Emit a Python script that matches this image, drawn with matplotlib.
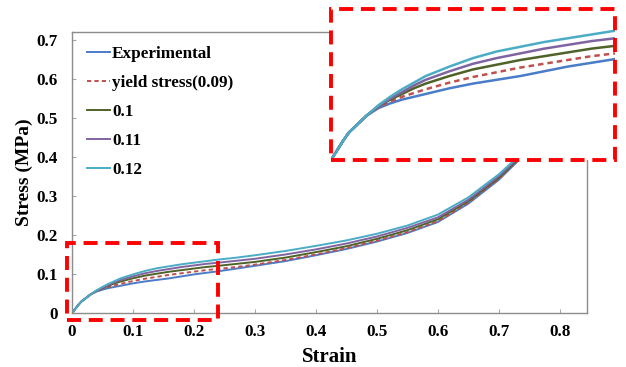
import matplotlib
matplotlib.use("Agg")
import matplotlib.pyplot as plt
from matplotlib.patches import Rectangle

plt.rcParams['font.family'] = ['Liberation Serif', 'DejaVu Serif']
plt.rcParams['font.weight'] = 'bold'

strain = [0, 0.005, 0.01, 0.015, 0.02, 0.025, 0.03, 0.04, 0.05, 0.06, 0.07, 0.08,
          0.1, 0.12, 0.14, 0.16, 0.18, 0.2, 0.22, 0.24, 0.27, 0.3, 0.35, 0.4, 0.45,
          0.5, 0.55, 0.6, 0.65, 0.7, 0.73, 0.76]

experimental = [0, 0.010, 0.020, 0.029, 0.035, 0.041, 0.047, 0.055, 0.060, 0.064, 0.067, 0.070,
                0.076, 0.081, 0.085, 0.089, 0.094, 0.099, 0.103, 0.107, 0.114, 0.121, 0.133, 0.148, 0.164,
                0.183, 0.205, 0.233, 0.280, 0.341, 0.387, 0.450]
ys_009 = [0, 0.010, 0.020, 0.029, 0.035, 0.041, 0.047, 0.056, 0.062, 0.067, 0.071, 0.075,
          0.082, 0.088, 0.093, 0.098, 0.102, 0.106, 0.110, 0.113, 0.118, 0.124, 0.136, 0.150, 0.166,
          0.185, 0.207, 0.235, 0.282, 0.343, 0.389, 0.452]
ys_010 = [0, 0.010, 0.020, 0.029, 0.035, 0.041, 0.047, 0.057, 0.064, 0.070, 0.076, 0.081,
          0.089, 0.096, 0.101, 0.106, 0.110, 0.114, 0.118, 0.121, 0.126, 0.131, 0.142, 0.156, 0.171,
          0.190, 0.212, 0.240, 0.286, 0.346, 0.391, 0.454]
ys_011 = [0, 0.010, 0.020, 0.029, 0.035, 0.041, 0.047, 0.057, 0.065, 0.072, 0.079, 0.085,
          0.094, 0.102, 0.108, 0.113, 0.118, 0.122, 0.126, 0.129, 0.134, 0.139, 0.150, 0.163, 0.178,
          0.196, 0.218, 0.245, 0.290, 0.350, 0.394, 0.456]
ys_012 = [0, 0.010, 0.020, 0.029, 0.035, 0.041, 0.047, 0.058, 0.067, 0.075, 0.082, 0.089,
          0.099, 0.108, 0.115, 0.120, 0.125, 0.129, 0.133, 0.137, 0.142, 0.148, 0.159, 0.172, 0.186,
          0.203, 0.224, 0.252, 0.296, 0.355, 0.398, 0.460]

labels = ['Experimental', 'yield stress(0.09)', '0.1', '0.11', '0.12']
series = [experimental, ys_009, ys_010, ys_011, ys_012]
colors = ['#4A7CC7', '#C0504D', '#4F6228', '#8064A2', '#4BACC6']
styles = ['-', (0, (2.2, 1.6)), '-', '-', '-']

xticks = [0, 0.1, 0.2, 0.3, 0.4, 0.5, 0.6, 0.7, 0.8]
xticklabels = ['0', '0.1', '0.2', '0.3', '0.4', '0.5', '0.6', '0.7', '0.8']
yticks = [0, 0.1, 0.2, 0.3, 0.4, 0.5, 0.6, 0.7]
yticklabels = ['0', '0.1', '0.2', '0.3', '0.4', '0.5', '0.6', '0.7']

fig = plt.figure(figsize=(6.26, 3.67), dpi=100)
ax = fig.add_axes([0.115, 0.147, 0.8227, 0.7658])

for y, lab, c, ls in zip(series, labels, colors, styles):
    ax.plot(strain, y, color=c, linestyle=ls, lw=1.4, label=lab)

ax.set_xlim(0, 0.845)
ax.set_ylim(0, 0.72)
ax.set_xticks(xticks)
ax.set_xticklabels(xticklabels)
ax.set_yticks(yticks)
ax.set_yticklabels(yticklabels)
ax.tick_params(direction='in', length=3, color='#A8A8A8', labelsize=12.3)
ax.tick_params(axis='x', pad=8)
ax.tick_params(axis='y', pad=10)
for s in ax.spines.values():
    s.set_color('#8C8C8C')
    s.set_linewidth(1.0)
ax.set_xlabel('Strain', fontsize=15, fontweight='bold', labelpad=5)
ax.set_ylabel('Stress (MPa)', fontsize=14, fontweight='bold', labelpad=3)

leg = ax.legend(loc='upper left', frameon=False, fontsize=12.3, handlelength=1.35,
                handletextpad=0.15, labelspacing=0.76, bbox_to_anchor=(0.005, 0.993),
                borderaxespad=0.3)

# small highlighted region on main axes
ax.add_patch(Rectangle((-0.008, -0.018), 0.247, 0.197, fill=False, edgecolor='#FF0000',
                       lw=2.8, linestyle=(0, (3.6, 2.0)), clip_on=False, zorder=5))

# inset zoom
ins = fig.add_axes([0.5288, 0.564, 0.4537, 0.4114])
ins.set_facecolor('white')
for y, c, ls in zip(series, colors, styles):
    ins.plot(strain, y, color=c, linestyle=ls, lw=1.8)
ins.set_xlim(0, 0.24)
ins.set_ylim(0, 0.16)
ins.set_xticks([])
ins.set_yticks([])
for s in ins.spines.values():
    s.set_visible(False)
ins.add_patch(Rectangle((0, 0), 1, 1, transform=ins.transAxes, fill=False,
                        edgecolor='#FF0000', lw=2.8, linestyle=(0, (3.6, 2.0)),
                        clip_on=False, zorder=5))

fig.savefig('out.png', dpi=100)
